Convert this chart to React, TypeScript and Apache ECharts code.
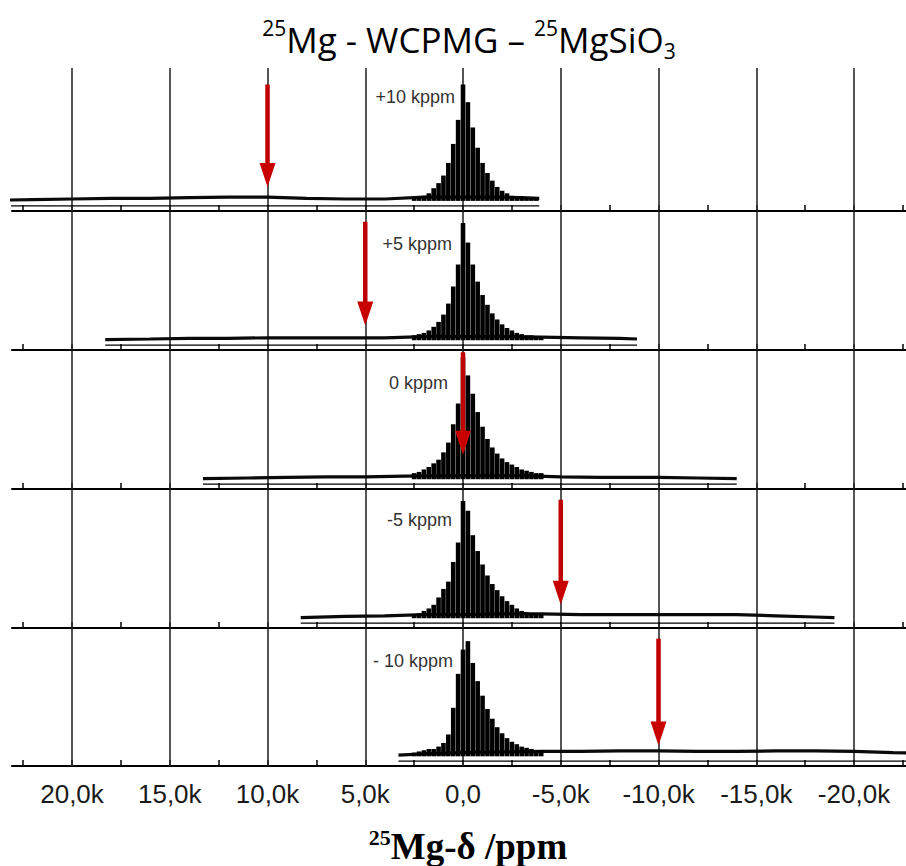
import React, { useEffect, useRef } from 'react';
import * as echarts from 'echarts';

// ---------- data ----------
const offsets = [10000, 5000, 0, -5000, -10000];
const panelLabels = ['+10 kppm', '+5 kppm', '0 kppm', '-5 kppm', '- 10 kppm'];
const tickValues = [20000, 15000, 10000, 5000, 0, -5000, -10000, -15000, -20000];
const minorTickValues = [22500, 20000, 17500, 15000, 12500, 10000, 7500, 5000, 2500, 0, -2500, -5000, -7500, -10000, -12500, -15000, -17500, -20000, -22500];

const spikePositions = [2500, 2250, 2000, 1750, 1500, 1250, 1000, 750, 500, 250, 0, -250, -500, -750, -1000, -1250, -1500, -1750, -2000, -2250, -2500, -2750, -3000, -3250, -3500, -3750, -4000];
const spikesP10 = [2, 3, 4, 6, 10, 14, 20, 30, 45, 64, 92, 78, 58, 42, 30, 22, 16, 11, 8, 6, 4, 3, 3, 2, 2, 2, 0];
const spikesP5 = [4, 5, 6, 8, 11, 15, 21, 30, 44, 62, 96, 80, 62, 48, 37, 29, 22, 17, 13, 10, 8, 6, 5, 4, 4, 3, 3];
const spikes0 = [5, 6, 8, 10, 13, 16, 22, 30, 45, 62, 100, 85, 70, 55, 43, 33, 26, 21, 17, 14, 12, 10, 8, 7, 6, 5, 5];
const spikesM5 = [3, 4, 6, 8, 11, 17, 24, 30, 46, 62, 96, 88, 68, 55, 44, 35, 28, 23, 18, 14, 11, 8, 6, 5, 4, 4, 3];
const spikesM10 = [3, 4, 5, 6, 6, 8, 11, 18, 40, 68, 88, 95, 77, 62, 50, 39, 31, 24, 19, 15, 12, 10, 8, 7, 6, 5, 5];
const spikeSets = [spikesP10, spikesP5, spikes0, spikesM5, spikesM10];

const baselineP10: [number, number][] = [[23800, 0.5], [22000, 1], [20000, 1.5], [18000, 2], [16000, 2], [14000, 2.5], [12000, 3], [10000, 3], [8000, 2], [6000, 1.5], [4000, 1.5], [2000, 3], [0, 3], [-2000, 3], [-3000, 2.5], [-3900, 2]];
const baselineP5: [number, number][] = [[18300, 0.5], [16000, 1], [14000, 1.5], [12000, 1.5], [10000, 2], [8000, 2], [6000, 2], [4000, 2], [2000, 3], [0, 3], [-2000, 3], [-4000, 2.5], [-6000, 2], [-8000, 1.5], [-8900, 1]];
const baseline0: [number, number][] = [[13300, 0.5], [11000, 1], [9000, 1.5], [7000, 2], [5000, 2], [3000, 2.5], [0, 3], [-3000, 3], [-5000, 2], [-7000, 1.5], [-10000, 1.5], [-12000, 1], [-14000, 0.5]];
const baselineM5: [number, number][] = [[8300, 0.5], [6000, 1.5], [4000, 2], [2000, 3], [0, 3], [-2000, 3.5], [-4000, 3.5], [-6000, 3], [-8000, 3], [-10000, 3], [-12000, 3], [-14000, 3], [-16000, 2], [-18000, 1], [-19000, 0.5]];
const baselineM10: [number, number][] = [[3300, 1], [2000, 2], [0, 3], [-4000, 4], [-6000, 4], [-8000, 4.5], [-10000, 4.5], [-12000, 4], [-14000, 4], [-16000, 4.5], [-18000, 4.5], [-20000, 4], [-22000, 3], [-23500, 2.5]];
const baselineSets = [baselineP10, baselineP5, baseline0, baselineM5, baselineM10];

const arrowTops = [92, 97, 104, 97, 97];
const arrowTips = [11, 12, 20, 11, 9];

// ---------- layout ----------
const panelTops = [68, 212, 351, 490, 629];
const panelBottoms = [211, 350, 489, 628, 766];
const labelPos: [number, number][] = [[455, 97], [452, 244], [448, 383], [452, 520], [453, 661]];
const X_MAX = 23070;
const X_MIN = -22660;

const fmt = (v: number) => (v === 0 ? '0,0' : (v / 1000).toFixed(1).replace('.', ',') + 'k');

export default function App() {
  const ref = useRef<HTMLDivElement>(null);
  useEffect(() => {
    if (!ref.current) return;
    const chart = echarts.init(ref.current, undefined, { renderer: 'svg' });

    const grids: any[] = [];
    const xAxes: any[] = [];
    const yAxes: any[] = [];
    const series: any[] = [];

    offsets.forEach((off, i) => {
      grids.push({ left: 12, right: 0, top: panelTops[i], height: panelBottoms[i] - panelTops[i] });
      const last = i === offsets.length - 1;
      xAxes.push({
        type: 'value',
        gridIndex: i,
        inverse: true,
        min: X_MIN,
        max: X_MAX,
        axisLine: { show: true, onZero: false, lineStyle: { color: '#000', width: 2 } },
        axisTick: { show: true, inside: true, length: 6, customValues: minorTickValues, lineStyle: { color: '#000', width: 1.5 } },
        axisLabel: {
          show: last,
          customValues: tickValues,
          formatter: fmt,
          margin: 15,
          color: '#1a1a1a',
          fontSize: 26,
          fontFamily: "'Liberation Sans', Arial, sans-serif",
        },
        splitLine: { show: false },
      });
      yAxes.push({ type: 'value', gridIndex: i, min: -8, max: 105, show: false });

      const bl = baselineSets[i];
      const start = bl[0][0];
      const end = bl[bl.length - 1][0];

      // box line + vertical grid lines
      series.push({
        type: 'line',
        xAxisIndex: i,
        yAxisIndex: i,
        data: [[start, -4], [end, -4]],
        symbol: 'none',
        lineStyle: { color: '#000', width: 1.2 },
        silent: true,
        z: 1,
        markLine: {
          silent: true,
          symbol: ['none', 'none'],
          label: { show: false },
          lineStyle: { color: '#2a2a2a', width: 1.6, type: 'solid' },
          data: tickValues.map((v) => ({ xAxis: v })),
          z: 1,
        },
      });
      // noisy baseline
      series.push({
        type: 'line',
        xAxisIndex: i,
        yAxisIndex: i,
        data: bl,
        symbol: 'none',
        lineStyle: { color: '#0a0a0a', width: 3.2 },
        silent: true,
        z: 2,
      });
      // spikelets
      series.push({
        type: 'bar',
        xAxisIndex: i,
        yAxisIndex: i,
        data: spikePositions.map((p, j) => [p, spikeSets[i][j]]),
        barWidth: 4.6,
        itemStyle: { color: '#000' },
        silent: true,
        z: 3,
      });
      // red arrow
      series.push({
        type: 'custom',
        xAxisIndex: i,
        yAxisIndex: i,
        data: [[off, arrowTops[i], arrowTips[i]]],
        encode: { x: 0, y: [1, 2] },
        clip: false,
        silent: true,
        z: 10,
        renderItem: (params: any, api: any) => {
          const x = api.value(0);
          const p1 = api.coord([x, api.value(1)]);
          const p2 = api.coord([x, api.value(2)]);
          const headH = 24;
          const headW = 16;
          return {
            type: 'group',
            children: [
              {
                type: 'line',
                shape: { x1: p1[0], y1: p1[1], x2: p2[0], y2: p2[1] - headH + 2 },
                style: { stroke: '#c00000', lineWidth: 4.5 },
              },
              {
                type: 'polygon',
                shape: { points: [[p2[0] - headW / 2, p2[1] - headH], [p2[0] + headW / 2, p2[1] - headH], [p2[0], p2[1]]] },
                style: { fill: '#c80000' },
              },
            ],
          };
        },
      });
    });

    const sans = "'Open Sans', sans-serif";
    const serif = "'Liberation Serif', 'Times New Roman', serif";
    chart.setOption({
      animation: false,
      backgroundColor: '#fff',
      title: [
        {
          text: '{s|25}{n|Mg - WCPMG – }{s|25}{n|MgSiO}{d|3}',
          left: 464,
          top: 12,
          textAlign: 'center',
          textStyle: {
            rich: {
              n: { fontSize: 35, fontWeight: 'normal', fontFamily: sans, color: '#000', lineHeight: 44 },
              s: { fontSize: 21, fontWeight: 'normal', fontFamily: sans, color: '#000', lineHeight: 26, verticalAlign: 'top' },
              d: { fontSize: 21, fontWeight: 'normal', fontFamily: sans, color: '#000', lineHeight: 24, verticalAlign: 'bottom' },
            },
          },
        },
        {
          text: '{s|25}{b|Mg-δ /ppm}',
          left: 463,
          top: 821,
          textAlign: 'center',
          textStyle: {
            rich: {
              b: { fontSize: 37, fontWeight: 'bold', fontFamily: serif, color: '#000', lineHeight: 40 },
              s: { fontSize: 22, fontWeight: 'bold', fontFamily: serif, color: '#000', lineHeight: 24, verticalAlign: 'top' },
            },
          },
        },
      ],
      grid: grids,
      xAxis: xAxes,
      yAxis: yAxes,
      series,
      graphic: panelLabels.map((t, i) => ({
        type: 'text',
        x: labelPos[i][0],
        y: labelPos[i][1],
        z: 20,
        style: {
          text: t,
          align: 'right',
          verticalAlign: 'middle',
          fill: '#333',
          fontSize: 18,
          fontFamily: "'Liberation Sans', Arial, sans-serif",
        },
      })),
    });

    return () => chart.dispose();
  }, []);

  return (
    <div
      ref={ref}
      style={{ position: 'absolute', left: 0, top: 0, width: 906, height: 866, background: '#fff' }}
    />
  );
}
